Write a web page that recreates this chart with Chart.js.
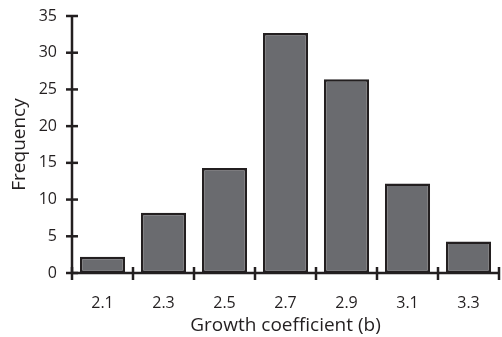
<!DOCTYPE html>
<html>
<head>
<meta charset="utf-8">
<script src="https://cdn.jsdelivr.net/npm/chart.js@4"></script>
<style>
html,body{margin:0;padding:0;background:#fff;}
#wrap{width:502px;height:337px;}
</style>
</head>
<body>
<div id="wrap"><canvas id="c" width="502" height="337"></canvas></div>
<script>
const categories = ["2.1","2.3","2.5","2.7","2.9","3.1","3.3"];
const frequency = [2.2, 8.2, 14.3, 32.7, 26.4, 12.2, 4.3];
const yTicks = [0,5,10,15,20,25,30,35];

const axisColor = '#231f20';
const FONT = '"Open Sans", sans-serif';

const axesPlugin = {
  id: 'axesPlugin',
  afterDatasetsDraw(chart) {
    const ctx = chart.ctx;
    const x = chart.scales.x, y = chart.scales.y;
    const ca = chart.chartArea;
    ctx.save();
    ctx.strokeStyle = axisColor;
    ctx.lineWidth = 2.5;
    ctx.lineCap = 'butt';
    const y0 = y.getPixelForValue(0);
    const yTop = y.getPixelForValue(yTicks[yTicks.length-1]);
    ctx.beginPath();
    ctx.moveTo(ca.left, y0 + 1);
    ctx.lineTo(ca.left, yTop - 1);
    ctx.stroke();
    yTicks.forEach(v => {
      const py = y.getPixelForValue(v);
      ctx.beginPath();
      ctx.moveTo(ca.left - 6, py);
      ctx.lineTo(ca.left + 6, py);
      ctx.stroke();
    });
    ctx.beginPath();
    ctx.moveTo(ca.left, y0);
    ctx.lineTo(ca.right, y0);
    ctx.stroke();
    const n = categories.length;
    const step = x.getPixelForValue(1) - x.getPixelForValue(0);
    for (let i = 0; i <= n; i++) {
      const px = (i < n) ? x.getPixelForValue(i) - step / 2 : x.getPixelForValue(n - 1) + step / 2;
      ctx.beginPath();
      ctx.moveTo(px, y0 - 6);
      ctx.lineTo(px, y0 + 7);
      ctx.stroke();
    }
    ctx.restore();
  }
};

new Chart(document.getElementById('c'), {
  type: 'bar',
  data: {
    labels: categories,
    datasets: [{
      data: frequency,
      backgroundColor: '#6a6b6f',
      borderColor: axisColor,
      borderWidth: 2.5,
      borderSkipped: false,
      categoryPercentage: 1.0,
      barPercentage: 0.74
    }]
  },
  options: {
    responsive: false,
    animation: false,
    devicePixelRatio: 1,
    layout: { padding: { top: 16, right: 3, left: 0, bottom: 0 } },
    plugins: { legend: { display: false }, tooltip: { enabled: false } },
    scales: {
      x: {
        offset: true,
        grid: { display: false, drawTicks: false },
        border: { display: false },
        ticks: { color: axisColor, font: { family: FONT, size: 16 }, padding: 21, maxRotation: 0 },
        title: { display: true, text: 'Growth coefficient (b)', color: axisColor, font: { family: FONT, size: 19 }, padding: { top: 2, bottom: 0 } },
        afterFit(s) { s.height = 64; s.paddingLeft = 0; s.paddingRight = 0; }
      },
      y: {
        min: 0, max: 35,
        afterBuildTicks(s) { s.ticks = yTicks.map(v => ({ value: v })); },
        grid: { display: false, drawTicks: false },
        border: { display: false },
        ticks: { color: axisColor, font: { family: FONT, size: 16 }, padding: 15 },
        title: { display: true, text: 'Frequency', color: axisColor, font: { family: FONT, size: 19 }, padding: { top: 8, bottom: 4 } },
        afterFit(s) { s.width = 72; s.paddingTop = 0; s.paddingBottom = 0; }
      }
    }
  },
  plugins: [axesPlugin]
});
</script>
</body>
</html>
